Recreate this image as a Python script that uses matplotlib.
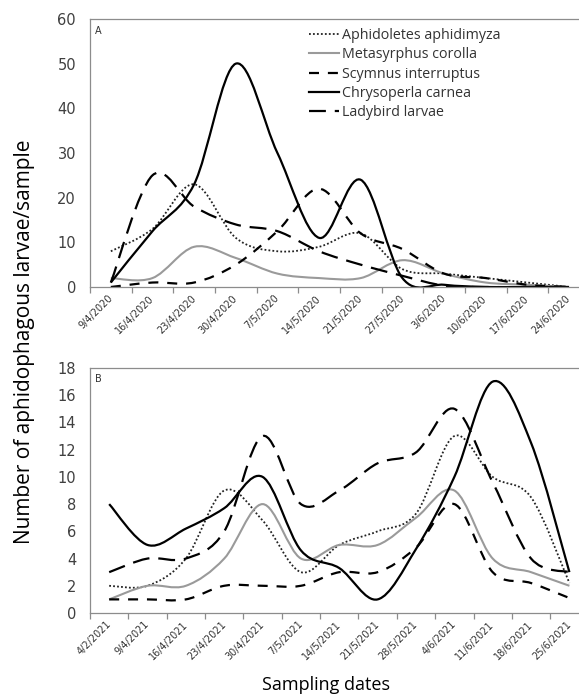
import numpy as np
import matplotlib
matplotlib.use("Agg")
import matplotlib.pyplot as plt
from matplotlib.path import Path
from matplotlib.patches import PathPatch
from matplotlib.lines import Line2D

# ---- data ----
dates_2020 = ["9/4/2020", "16/4/2020", "23/4/2020", "30/4/2020", "7/5/2020", "14/5/2020",
              "21/5/2020", "27/5/2020", "3/6/2020", "10/6/2020", "17/6/2020", "24/6/2020"]
aphidoletes_2020 = [8, 13, 23, 11, 8, 9, 12, 4, 3, 2, 1, 0]
metasyrphus_2020 = [2, 2, 9, 6.5, 3, 2, 2, 6, 3, 1, 0.5, 0]
scymnus_2020 = [0, 1, 1, 5, 12.5, 22, 12, 8.5, 3, 2, 0.5, 0]
chrysoperla_2020 = [1, 12.5, 23, 50, 30, 11, 24, 2, 0.5, 0, 0, 0]
ladybird_2020 = [1, 25, 18, 14, 12.5, 8, 5, 2.5, 0.3, 0, 0, 0]

dates_2021 = ["4/2/2021", "9/4/2021", "16/4/2021", "23/4/2021", "30/4/2021", "7/5/2021",
              "14/5/2021", "21/5/2021", "28/5/2021", "4/6/2021", "11/6/2021", "18/6/2021",
              "25/6/2021"]
aphidoletes_2021 = [2, 2, 4, 9, 6.8, 3, 5, 6, 7.3, 13, 10, 8.5, 2.2]
metasyrphus_2021 = [1, 2, 2, 4, 8, 4, 5, 5, 7, 9, 4, 3, 2]
scymnus_2021 = [1, 1, 1, 2, 2, 2, 3, 3, 4.8, 8, 3, 2.2, 1.1]
chrysoperla_2021 = [8, 5, 6.2, 7.7, 10, 4.6, 3.3, 1, 4.7, 10, 17, 12.5, 3]
ladybird_2021 = [3, 4, 4, 6, 13, 8, 9, 11, 11.8, 15, 9.6, 4, 3]

names = ["Aphidoletes aphidimyza", "Metasyrphus corolla", "Scymnus interruptus",
         "Chrysoperla carnea", "Ladybird larvae"]

styles = {
    "Aphidoletes aphidimyza": dict(color="#222222", lw=1.3, ls=(0, (1, 1.2))),
    "Metasyrphus corolla": dict(color="#9a9a9a", lw=1.5, ls="-"),
    "Scymnus interruptus": dict(color="black", lw=1.6, ls=(0, (4.5, 4))),
    "Chrysoperla carnea": dict(color="black", lw=1.6, ls="-"),
    "Ladybird larvae": dict(color="black", lw=1.6, ls=(0, (7.6, 4))),
}


def smooth_path(values):
    # Excel-style smoothed line: cubic Bezier segments (Catmull-Rom control points)
    pts = np.column_stack([np.arange(len(values)), values]).astype(float)
    ext = np.vstack([pts[0], pts, pts[-1]])
    verts = [pts[0]]
    codes = [Path.MOVETO]
    for i in range(len(pts) - 1):
        p0, p1, p2, p3 = ext[i], ext[i + 1], ext[i + 2], ext[i + 3]
        verts += [p1 + (p2 - p0) / 6, p2 - (p3 - p1) / 6, p2]
        codes += [Path.CURVE4] * 3
    return Path(verts, codes)


def draw_panel(ax, dates, series, ymax, ystep, xright, letter):
    for name, vals in zip(names, series):
        st = styles[name]
        ax.add_patch(PathPatch(smooth_path(vals), facecolor="none", edgecolor=st["color"],
                               lw=st["lw"], linestyle=st["ls"], capstyle="butt"))
    n = len(dates)
    ax.set_xlim(-0.5, xright)
    ax.set_ylim(0, ymax)
    ax.set_yticks(np.arange(0, ymax + 0.1, ystep))
    ax.set_xticks(range(n))
    ax.set_xticklabels(dates, rotation=45, ha="right", va="center", rotation_mode="anchor",
                       fontsize=7, color="#333333")
    ax.set_xticks(np.arange(n) - 0.5, minor=True)
    ax.tick_params(axis="x", which="major", length=0, pad=7)
    ax.tick_params(axis="x", which="minor", length=4, color="#8c8c8c", width=0.9)
    ax.tick_params(axis="y", length=0, pad=10, labelsize=10.5, labelcolor="#404040")
    for s in ["left", "bottom", "top"]:
        ax.spines[s].set_color("#8c8c8c")
        ax.spines[s].set_linewidth(0.9)
    ax.spines["right"].set_visible(False)
    ax.text(0.01, 0.975, letter, transform=ax.transAxes, fontsize=7, va="top", ha="left",
            color="#333333")


fig = plt.figure(figsize=(5.79, 7.0), dpi=100)

ax_a = fig.add_axes([90 / 579, 1 - 287 / 700, 489 / 579, 268 / 700])
draw_panel(ax_a, dates_2020,
           [aphidoletes_2020, metasyrphus_2020, scymnus_2020, chrysoperla_2020, ladybird_2020],
           60, 10, 11.24, "A")

ax_b = fig.add_axes([90 / 579, 1 - 613 / 700, 489 / 579, 245 / 700])
draw_panel(ax_b, dates_2021,
           [aphidoletes_2021, metasyrphus_2021, scymnus_2021, chrysoperla_2021, ladybird_2021],
           18, 2, 12.25, "B")

handles = [Line2D([0], [0], color=styles[n]["color"], lw=styles[n]["lw"],
                  linestyle=styles[n]["ls"]) for n in names]
leg = ax_a.legend(handles, names, loc="upper left", bbox_to_anchor=(309 / 579, 1 - 28 / 700),
                  bbox_transform=fig.transFigure, frameon=False,
                  prop={"family": "Open Sans", "size": 10.3}, handlelength=2.1,
                  handletextpad=0.2, labelspacing=0.3, borderpad=0, borderaxespad=0)
for t in leg.get_texts():
    t.set_color("#333333")

fig.text(25 / 579, 1 - 342 / 700, "Number of aphidophagous larvae/sample", rotation=90,
         ha="center", va="center", fontsize=15, family="Open Sans")
fig.text(326 / 579, 1 - 685 / 700, "Sampling dates", ha="center", va="center",
         fontsize=13, family="Open Sans")

fig.savefig("out.png", dpi=100)
